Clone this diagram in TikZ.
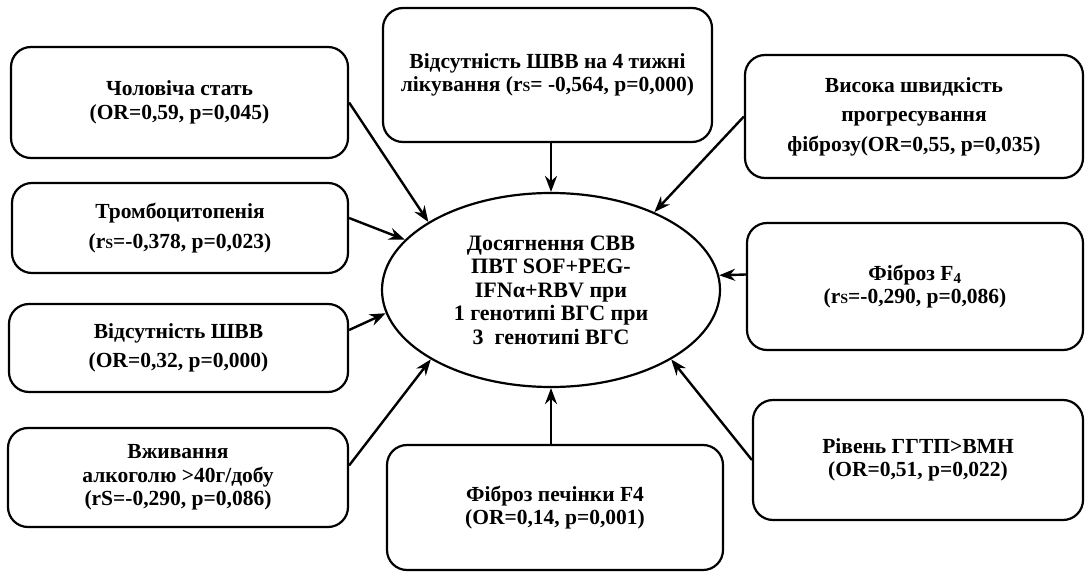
\documentclass[tikz,border=0pt]{standalone}
\usepackage{fontspec}
\setmainfont{Liberation Serif}
\usetikzlibrary{arrows.meta,shapes.geometric}

\newcommand{\rsp}{r{\fontsize{14}{14}\selectfont S}}

\begin{document}
\begin{tikzpicture}[x=1pt, y=-1pt, >={Stealth[length=16pt,width=12pt]},
    factor/.style={draw, line width=2.2pt, rounded corners=20pt, align=center,
        inner sep=0pt, font=\fontsize{21.5}{23.5}\selectfont\bfseries},
    hub/.style={draw, ellipse, line width=2.2pt, inner sep=0pt, align=center,
        minimum width=338pt, minimum height=194pt,
        font=\fontsize{22}{23.5}\selectfont\bfseries},
    link/.style={->, line width=2.4pt}]
    \useasboundingbox (0,0) rectangle (1090,572);

    % Central outcome
    \node[hub] (svr) at (551,290) {Досягнення СВВ\\ ПВТ SOF+PEG-\\ IFNα+RBV при\\
        1 генотипі ВГС при\\ 3\ \ генотипі ВГС};

    % Left column
    \node[factor, minimum width=337pt, minimum height=111pt] (male) at (179.5,102.5)
        {Чоловіча стать\\ (OR=0,59, p=0,045)};
    \node[factor, minimum width=336pt, minimum height=90pt] (plt) at (180,228)
        {Тромбоцитопенія\\[6pt](\rsp=-0,378, p=0,023)};
    \node[factor, minimum width=339pt, minimum height=88pt] (nores) at (178.5,348)
        {Відсутність ШВВ\\[6pt](OR=0,32, p=0,000)};
    \node[factor, minimum width=340pt, minimum height=99pt] (alc) at (178,477.5)
        {Вживання\\ алкоголю >40г/добу\\ (rS=-0,290, p=0,086)};

    % Top and bottom
    \node[factor, minimum width=329pt, minimum height=134pt] (week4) at (547.5,75)
        {Відсутність ШВВ на 4 тижні\\ лікування (\rsp= -0,564, p=0,000)};
    \node[factor, minimum width=336pt, minimum height=125pt] (liver) at (555,507.5)
        {Фіброз печінки F4\\ (OR=0,14, p=0,001)};

    % Right column
    \node[factor, minimum width=338pt, minimum height=123pt] (speed) at (914,116.5)
        {Висока швидкість\\[6pt]прогресування\\[6pt]фіброзу(OR=0,55, p=0,035)};
    \node[factor, minimum width=336pt, minimum height=127pt] (fib) at (915,286.5)
        {Фіброз F\textsubscript{4}\\ (\rsp=-0,290, p=0,086)};
    \node[factor, minimum width=330pt, minimum height=120pt] (ggt) at (918,460)
        {Рівень ГГТП>ВМН\\ (OR=0,51, p=0,022)};

    % Arrows into the outcome
    \draw[link] (male.east) -- (svr.151);
    \draw[link] ([yshift=10pt]plt.east) -- (svr.161);
    \draw[link] ([yshift=18pt]nores.east) -- (svr.188);
    \draw[link] ([yshift=12pt]alc.east) -- (svr.210);
    \draw[link] (svr.north |- week4.south) -- (svr.north);
    \draw[link] (svr.south |- liver.north) -- (svr.south);
    \draw[link] (speed.west) -- (svr.37);
    \draw[link] ([yshift=12pt]fib.west) -- (svr.5);
    \draw[link] (ggt.west) -- (svr.-30);
\end{tikzpicture}
\end{document}
